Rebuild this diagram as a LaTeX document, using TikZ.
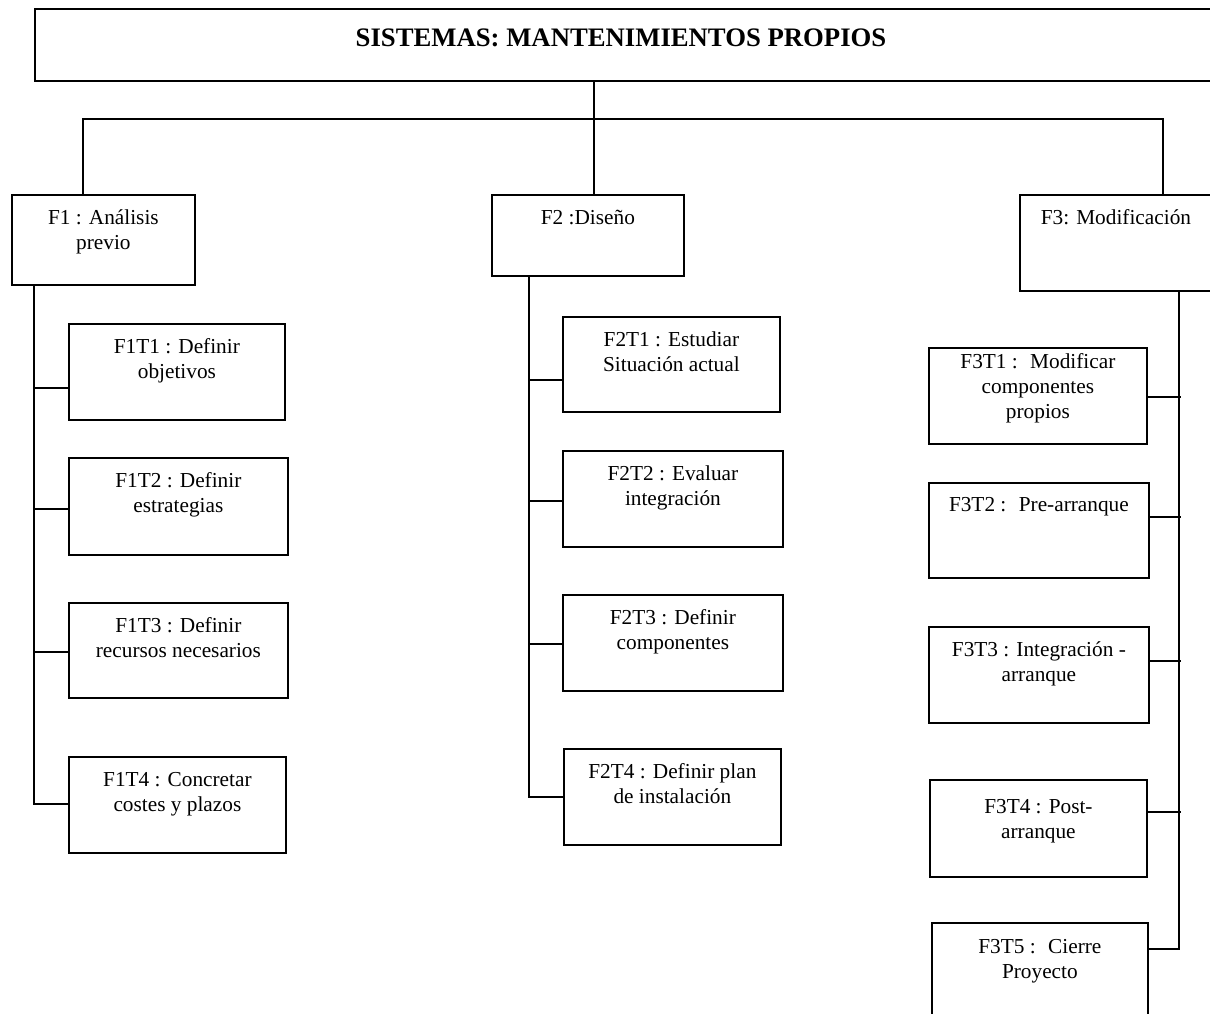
\documentclass[tikz,border=0pt]{standalone}
\usepackage{fontspec}
\setmainfont{Liberation Serif}
\begin{document}
\begin{tikzpicture}[x=1pt,y=-1pt,
  box/.style={draw, line width=1.8pt, inner sep=0pt, anchor=north west},
  lbl/.style={font=\fontsize{21.3}{25}\selectfont, align=center, inner sep=0pt, anchor=north},
  wire/.style={line width=1.4pt}]
% page area
\fill[white] (0,0) rectangle (1210,1014);
\useasboundingbox (0,0) rectangle (1210,1014);

% box helper: name, x, y, width, height, text, text offset
\newcommand\tbox[7]{%
  \node[box, minimum width=#4pt, minimum height=#5pt] (#1) at (#2,#3) {};
  \node[lbl] (#1-t) at ([yshift=-#7pt]#1.north) {\strut #6};}

% title
\node[box, minimum width=1178pt, minimum height=72pt] (top) at (34,8) {};
\node[font=\bfseries\fontsize{26.7}{30}\selectfont, anchor=base, inner sep=0pt] (top-t) at (621,47) {SISTEMAS: MANTENIMIENTOS PROPIOS};

% phases
\tbox{f1}{11}{194}{183}{90}{F1 : Análisis\\previo}{13}
\tbox{f2}{491}{194}{192}{81}{F2 :Diseño}{13}
\tbox{f3}{1019}{194}{192}{96}{F3: Modificación}{13}

% tasks of phase 1
\tbox{f1t1}{68}{323}{216}{96}{F1T1 : Definir\\objetivos}{13}
\tbox{f1t2}{68}{457}{219}{97}{F1T2 : Definir\\estrategias}{13}
\tbox{f1t3}{68}{602}{219}{95}{F1T3 : Definir\\recursos necesarios}{13}
\tbox{f1t4}{68}{756}{217}{96}{F1T4 : Concretar\\costes y plazos}{13}

% tasks of phase 2
\tbox{f2t1}{562}{316}{217}{95}{F2T1 : Estudiar\\Situación actual}{13}
\tbox{f2t2}{562}{450}{220}{96}{F2T2 : Evaluar\\integración}{13}
\tbox{f2t3}{562}{594}{220}{96}{F2T3 : Definir\\componentes}{13}
\tbox{f2t4}{563}{748}{217}{96}{F2T4 : Definir plan\\de instalación}{13}

% tasks of phase 3
\tbox{f3t1}{928}{347}{218}{96}{F3T1 : ~Modificar\\componentes\\propios}{4}
\tbox{f3t2}{928}{482}{220}{95}{F3T2 : ~Pre-arranque}{12}
\tbox{f3t3}{928}{626}{220}{96}{F3T3 : Integración -\\arranque}{13}
\tbox{f3t4}{929}{779}{217}{97}{F3T4 : Post-\\arranque}{17}
\tbox{f3t5}{931}{922}{216}{96}{F3T5 : ~Cierre\\Proyecto}{14}

% bus from the title to the phases
\coordinate (busL) at (83,119);
\coordinate (busR) at (1163,119);
\coordinate (hub) at (594,119);
\draw[wire] (top.south -| hub) -- (f2.north -| hub);
\draw[wire] (f1.north -| busL) |- (busR) -- (f3.north -| busR);

% spines
\coordinate (sp1) at (34,0);
\coordinate (sp2) at (529,0);
\coordinate (sp3) at (1179,0);

% branch points on the task boxes
\coordinate (c11) at ([yshift=-16pt]f1t1.west);
\coordinate (c12) at ([yshift=-2.5pt]f1t2.west);
\coordinate (c13) at ([yshift=-1.5pt]f1t3.west);
\coordinate (c14) at ([yshift=1pt]f1t4.west);
\coordinate (c21) at ([yshift=-15.5pt]f2t1.west);
\coordinate (c22) at ([yshift=-2pt]f2t2.west);
\coordinate (c23) at ([yshift=-1pt]f2t3.west);
\coordinate (c24) at (f2t4.west);
\coordinate (c31) at ([yshift=-1pt]f3t1.east);
\coordinate (c32) at ([yshift=13.5pt]f3t2.east);
\coordinate (c33) at ([yshift=14pt]f3t3.east);
\coordinate (c34) at ([yshift=16.5pt]f3t4.east);
\coordinate (c35) at ([yshift=22pt]f3t5.east);

% phase 1
\draw[wire] (f1.south -| sp1) |- (c14);
\foreach \c in {c11,c12,c13} \draw[wire] (\c -| sp1) -- (\c);
% phase 2
\draw[wire] (f2.south -| sp2) |- (c24);
\foreach \c in {c21,c22,c23} \draw[wire] (\c -| sp2) -- (\c);
% phase 3
\draw[wire] (f3.south -| sp3) |- (c35);
\foreach \c in {c31,c32,c33,c34} \draw[wire] (\c) -- ([xshift=2pt]\c -| sp3);
\end{tikzpicture}
\end{document}
